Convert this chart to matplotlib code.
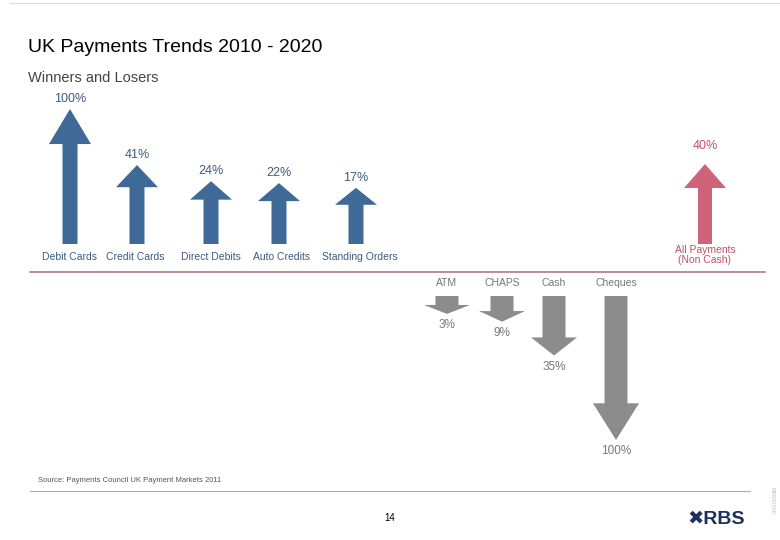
import matplotlib.pyplot as plt
from matplotlib.patches import Polygon

# Growth (winners) and decline (losers) 2010-2020
up_labels = ["Debit Cards", "Credit Cards", "Direct Debits", "Auto Credits", "Standing Orders"]
up_values = [100, 41, 24, 22, 17]
down_labels = ["ATM", "CHAPS", "Cash", "Cheques"]
down_values = [3, 9, 35, 100]
total_label = "All Payments\n(Non Cash)"
total_value = 40

plt.rcParams['font.family'] = ['Liberation Sans', 'DejaVu Sans']

fig = plt.figure(figsize=(7.8, 5.4), dpi=100)
ax = fig.add_axes([0, 0, 1, 1])
ax.set_xlim(0, 780)
ax.set_ylim(540, 0)
ax.axis("off")


# One block arrow drawn in pixel space; direction +1 = up, -1 = down.
def arrow(x, base, length, shaft, head_w, head_h, color, direction):
	tip = base - direction * length
	neck = tip + direction * head_h
	pts = [
		(x - shaft / 2, base), (x - shaft / 2, neck), (x - head_w / 2, neck),
		(x, tip), (x + head_w / 2, neck), (x + shaft / 2, neck), (x + shaft / 2, base),
	]
	ax.add_patch(Polygon(pts, closed=True, facecolor=color, edgecolor="none"))
	return tip


blue = "#3f6a98"
label_blue = "#3d5a80"
up_x = [70, 137, 211, 279, 356]
up_label_x = [70, 135, 211, 282, 360]
for x, lx, lab, v in zip(up_x, up_label_x, up_labels, up_values):
	length = 40 + 0.95 * v
	tip = arrow(x, 244, length, 15, 42, 0.23 * length + 4, blue, 1)
	ax.text(x, tip - 4, f"{v}%", ha="center", va="bottom", fontsize=9, color=label_blue)
	ax.text(lx, 257, lab, ha="center", va="center", fontsize=7.5, color=label_blue)

tip = arrow(705, 244, 80, 14, 42, 24, "#d0637a", 1)
ax.text(705, 146, f"{total_value}%", ha="center", va="center", fontsize=9, color="#c0506a")
ax.text(705, 255, total_label, ha="center", va="center", fontsize=7.5, color="#c0506a", linespacing=1.1)

down_x = [447, 502, 554, 616]
for x, lab, v in zip(down_x, down_labels, down_values):
	length = 14 + 1.3 * v
	tip = arrow(x, 296, length, 23, 46, 0.22 * length + 5, "#8c8c8c", -1)
	ax.text(x, 283, lab, ha="center", va="center", fontsize=7.5, color="#777777")
	ax.text(x, tip + 11, f"{v}%", ha="center", va="center", fontsize=8.5, color="#777777")

ax.plot([30, 765], [272, 272], color="#b07a8a", lw=1.2)
ax.plot([30, 750], [491, 491], color="#aaaaaa", lw=0.8)
ax.plot([10, 780], [3, 3], color="#dddddd", lw=0.8)

ax.text(28, 47, "UK Payments Trends 2010 - 2020", fontsize=14, va="center", color="black")
ax.text(28, 78, "Winners and Losers", fontsize=10.5, va="center", color="#444444")
ax.text(38, 480, "Source: Payments Council UK Payment Markets 2011", fontsize=5.5, va="center", color="#555555")
ax.text(390, 518, "14", fontsize=7, ha="center", va="center")
ax.text(745, 520, "\u2716RBS", fontsize=14, fontweight="bold", ha="right", va="center", color="#1d2f5e")
ax.text(772, 500, "RBS00000", fontsize=4, rotation=270, ha="center", va="center", color="#bbbbbb")

fig.savefig("out.png", dpi=100)
